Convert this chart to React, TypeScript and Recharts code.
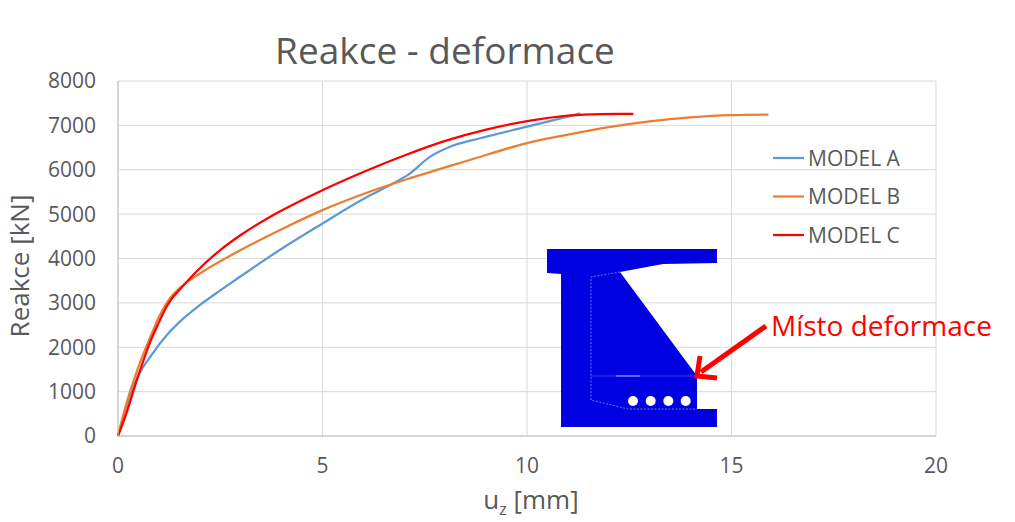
import React from 'react';
import { LineChart, Line, XAxis, YAxis, CartesianGrid } from 'recharts';

// values
const modelAx = [0, 0.2, 0.5, 0.8, 1.2, 1.6, 2.0, 2.5, 3.0, 4.0, 5.0, 6.0, 6.65, 7.14, 7.63, 8.12, 8.85, 10.0, 10.7, 11.3];
const modelAy = [0, 650, 1370, 1800, 2280, 2650, 2950, 3280, 3600, 4220, 4790, 5340, 5655, 5920, 6295, 6520, 6710, 6970, 7130, 7270];

const modelBx = [0, 0.15, 0.5, 0.8, 1.0, 1.15, 1.3, 1.5, 2.0, 3.0, 4.0, 5.0, 6.2, 7.14, 8.6, 10.0, 11.0, 12.0, 13.0, 14.0, 15.0, 15.9];
const modelBy = [0, 550, 1560, 2250, 2680, 2940, 3140, 3330, 3660, 4190, 4660, 5090, 5520, 5810, 6220, 6600, 6790, 6960, 7090, 7180, 7232, 7245];

const modelCx = [0, 0.2, 0.5, 0.8, 1.0, 1.15, 1.3, 1.5, 2.0, 2.5, 3.0, 4.0, 5.0, 6.0, 7.0, 8.0, 9.0, 10.0, 11.0, 11.8, 12.6];
const modelCy = [0, 500, 1370, 2150, 2560, 2850, 3080, 3290, 3780, 4190, 4530, 5080, 5540, 5950, 6320, 6650, 6905, 7095, 7220, 7255, 7260];

const xTicks = [0, 5, 10, 15, 20];
const yTicks = [0, 1000, 2000, 3000, 4000, 5000, 6000, 7000, 8000];

const seriesNames = ['MODEL A', 'MODEL B', 'MODEL C'];
const seriesColors = ['#5b9bd5', '#ed7d31', '#ff0000'];

const toPoints = (xs: number[], ys: number[]) => xs.map((x, i) => ({ x, y: ys[i] }));

const series = [
  toPoints(modelAx, modelAy),
  toPoints(modelBx, modelBy),
  toPoints(modelCx, modelCy),
];

const FONT = '"Open Sans", "Noto Sans", sans-serif';
const GREY = '#595959';

const Overlay = () => (
  <svg
    width={1015}
    height={522}
    style={{ position: 'absolute', left: 0, top: 0, pointerEvents: 'none' }}
  >
    <text x={445} y={64} textAnchor="middle" fontSize={37} fill={GREY} fontFamily={FONT}>
      Reakce - deformace
    </text>
    <text
      x={0}
      y={0}
      transform="translate(29 266) rotate(-90)"
      textAnchor="middle"
      fontSize={26}
      fill={GREY}
      fontFamily={FONT}
    >
      Reakce [kN]
    </text>
    <text x={531} y={509} textAnchor="middle" fontSize={26} fill={GREY} fontFamily={FONT}>
      u<tspan fontSize={16} dy={6}>z</tspan>
      <tspan dy={-6}> [mm]</tspan>
    </text>

    {/* legend */}
    {seriesNames.map((name, i) => (
      <g key={name}>
        <line x1={773} x2={804} y1={158 + i * 38.5} y2={158 + i * 38.5} stroke={seriesColors[i]} strokeWidth={2.25} />
        <text x={808} y={165.5 + i * 38.5} fontSize={21} fill={GREY} fontFamily={FONT}>
          {name}
        </text>
      </g>
    ))}

    {/* cross-section sketch */}
    <polygon
      points="547,249 717,249 717,263 663,264 620,272 697,376 697,409 717,409 717,427 561,427 561,274 547,273"
      fill="#0000e0"
    />
    <polyline
      points="620,272 591,277 591,400 628,409 697,409"
      fill="none"
      stroke="#8a8aff"
      strokeWidth={0.8}
      strokeDasharray="2 1.5"
    />
    <line x1={591} x2={697} y1={376} y2={376} stroke="#3a3aff" strokeWidth={1} />
    <line x1={616} x2={640} y1={376} y2={376} stroke="#9a9aff" strokeWidth={1.2} />
    {[633, 650.7, 668.3, 685.7].map((cx) => (
      <circle key={cx} cx={cx} cy={401} r={5} fill="#ffffff" />
    ))}

    {/* arrow + note */}
    <line x1={766} y1={326} x2={701} y2={372} stroke="#ff0000" strokeWidth={5} />
    <path d="M 700 356 L 697 376 L 717 378" fill="none" stroke="#ff0000" strokeWidth={5} />
    <text x={771} y={336} fontSize={28} fill="#ff0000" fontFamily={FONT}>
      Místo deformace
    </text>
  </svg>
);

export default function App() {
  return (
    <div style={{ position: 'absolute', left: 0, top: 0, width: 1015, height: 522, background: '#fff' }}>
      <LineChart width={1015} height={522} margin={{ top: 81, right: 79, left: 58, bottom: 46 }}>
        <CartesianGrid stroke="#d9d9d9" verticalValues={xTicks} horizontalValues={yTicks} />
        <XAxis
          type="number"
          dataKey="x"
          domain={[0, 20]}
          ticks={xTicks}
          height={40}
          tickLine={false}
          tickSize={0}
          tickMargin={22}
          axisLine={{ stroke: '#bfbfbf' }}
          tick={{ fill: GREY, fontSize: 21, fontFamily: FONT }}
          allowDuplicatedCategory={false}
        />
        <YAxis
          type="number"
          dataKey="y"
          domain={[0, 8000]}
          ticks={yTicks}
          width={60}
          tickLine={false}
          tickSize={0}
          tickMargin={22}
          axisLine={{ stroke: '#bfbfbf' }}
          tick={{ fill: GREY, fontSize: 21, fontFamily: FONT }}
        />
        {series.map((pts, i) => (
          <Line
            key={seriesNames[i]}
            data={pts}
            dataKey="y"
            name={seriesNames[i]}
            type="monotone"
            stroke={seriesColors[i]}
            strokeWidth={2.25}
            dot={false}
            activeDot={false}
            isAnimationActive={false}
          />
        ))}
      </LineChart>
      <Overlay />
    </div>
  );
}
